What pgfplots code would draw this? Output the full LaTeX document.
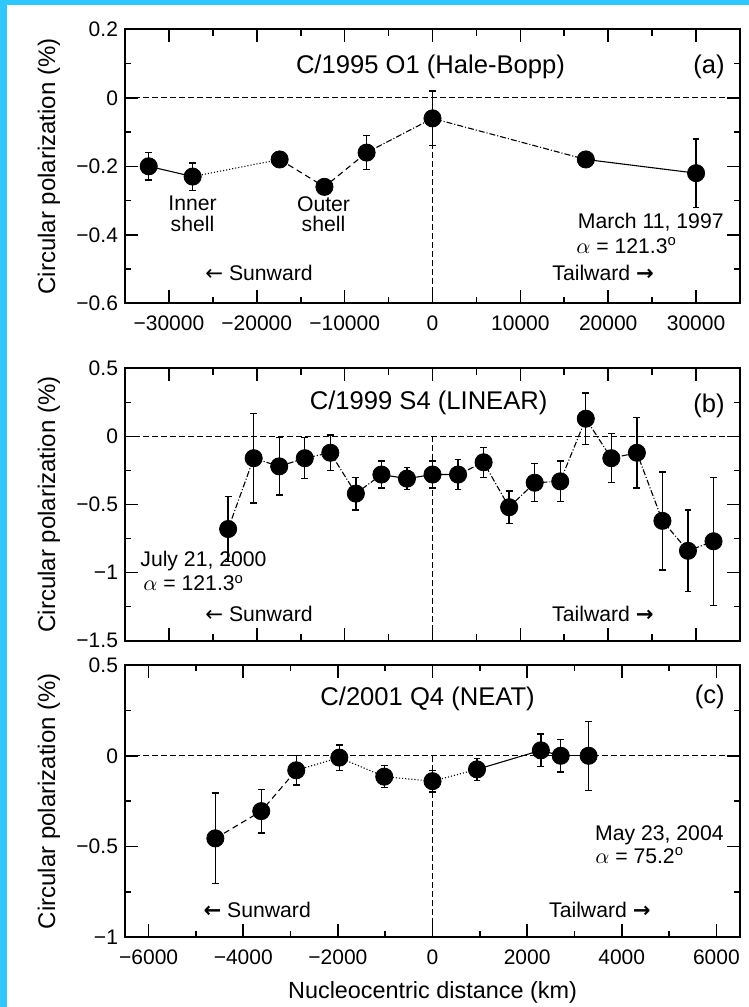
\documentclass[border=0pt]{standalone}
\usepackage{fontspec}
\setmainfont{Liberation Sans}
\newfontfamily\dejavu{DejaVu Sans}
\usepackage{pgfplots}
\pgfplotsset{compat=1.18}
\definecolor{bordercyan}{RGB}{46,200,255}
\newcommand{\fA}{\fontsize{10.6}{12.7}\selectfont}
\newcommand{\fS}{\fontsize{10.6}{10.2}\selectfont}
\newcommand{\fT}{\fontsize{12.8}{15}\selectfont}
\newcommand{\la}{{\dejavu ←}}
\newcommand{\ra}{{\dejavu\bfseries →}}
\newcommand{\lab}{{\dejavu\bfseries ←}}
\pgfplotsset{
  panel/.style={
    scale only axis, width=307.5pt,
    axis line style={line width=1pt},
    every tick/.style={line width=0.8pt, black},
    tick align=inside,
    major tick length=6.5pt, minor tick length=3.2pt,
    tick label style={font=\fontsize{10.5}{12}\selectfont},
    xticklabel style={yshift=-2.7pt},
    scaled x ticks=false, scaled y ticks=false,
    clip=false,
    ylabel={Circular polarization (\%)},
    every axis y label/.style={at={(axis description cs:-0.1236,0.5)}, rotate=90, anchor=center, font=\fontsize{12}{14}\selectfont},
  },
  seg/.style={black, line width=0.55pt, no marks},
  zline/.style={black, line width=0.6pt, dash pattern=on 3pt off 1.5pt, no marks},
  dat/.style={only marks, mark=*, mark size=4.3pt, black, mark options={solid, fill=black},
    error bars/.cd, y dir=both, y explicit,
    error bar style={line width=0.7pt, solid},
    error mark options={rotate=90, mark size=1.7pt, line width=0.7pt}},
}
\begin{document}
\begin{tikzpicture}
\useasboundingbox (0,0) rectangle (374.5pt,-503.5pt);
\fill[bordercyan] (0,0) rectangle (374.5pt,-503.5pt);
\fill[white] (3.5pt,-2.5pt) rectangle (374.5pt,-503.5pt);

% ---------------- panel (a)
\begin{axis}[panel, at={(62.5pt,-14.65pt)}, anchor=north west, height=137pt,
  xmin=-35000, xmax=35000, ymin=-0.6, ymax=0.2,
  xtick={-30000,-20000,-10000,0,10000,20000,30000},
  xticklabels={−30000,−20000,−10000,0,10000,20000,30000},
  minor xtick={-25000,-15000,-5000,5000,15000,25000},
  ytick={-0.6,-0.4,-0.2,0,0.2},
  yticklabels={−0.6,−0.4,−0.2,0,0.2},
  minor ytick={-0.5,-0.3,-0.1,0.1}]
\addplot[zline] coordinates {(-35000,0) (35000,0)};
\addplot[zline] coordinates {(0,0) (0,-0.6)};
\addplot[seg] coordinates {(-32300,-0.20) (-27300,-0.23)};
\addplot[seg, densely dotted] coordinates {(-27300,-0.23) (-17400,-0.18)};
\addplot[seg, densely dashed] coordinates {(-17400,-0.18) (-12300,-0.26) (-7500,-0.16)};
\addplot[seg, densely dashdotted] coordinates {(-7500,-0.16) (0,-0.06) (17450,-0.18)};
\addplot[seg] coordinates {(17450,-0.18) (30000,-0.22)};
\addplot[dat] coordinates {
 (-32300,-0.20) +- (0,0.04)
 (-27300,-0.23) +- (0,0.04)
 (-17400,-0.18) +- (0,0.02)
 (-12300,-0.26) +- (0,0.02)
 (-7500,-0.16) +- (0,0.05)
 (0,-0.06) +- (0,0.08)
 (17450,-0.18) +- (0,0.02)
 (30000,-0.22) +- (0,0.10)
};
\node[anchor=base, font=\fT] at (axis description cs:0.4967,0.8405) {C/1995 O1 (Hale-Bopp)};
\node[anchor=base east, font=\fT, inner sep=0] at (axis description cs:0.9756,0.8405) {(a)};
\node[anchor=north, font=\fS, inner sep=0, align=center] at (axis description cs:0.1098,0.392) {Inner\\shell};
\node[anchor=north, font=\fS, inner sep=0, align=center] at (axis description cs:0.3228,0.392) {Outer\\shell};
\node[anchor=base east, font=\fA, inner sep=0] at (axis description cs:0.974,0.2748) {March 11, 1997};
\node[anchor=base west, font=\fA, inner sep=0] at (axis description cs:0.7333,0.1836) {$\alpha$ = 121.3\textsuperscript{o}};
\node[anchor=base west, font=\fA, inner sep=0] at (axis description cs:0.130,0.085) {\la\ Sunward};
\node[anchor=base west, font=\fA, inner sep=0] at (axis description cs:0.6943,0.085) {Tailward \ra};
\end{axis}

% ---------------- panel (b)
\begin{axis}[panel, at={(62.5pt,-184.15pt)}, anchor=north west, height=136.2pt,
  xmin=-6500, xmax=6500, ymin=-1.5, ymax=0.5,
  xtick={-5571.43,-3714.29,-1857.14,0,1857.14,3714.29,5571.43},
  xticklabels={},
  minor xtick={-4642.86,-2785.71,-928.57,928.57,2785.71,4642.86},
  ytick={-1.5,-1,-0.5,0,0.5},
  yticklabels={−1.5,−1,−0.5,0,0.5},
  minor ytick={-1.25,-0.75,-0.25,0.25}]
\addplot[zline] coordinates {(-6500,0) (6500,0)};
\addplot[zline] coordinates {(0,0) (0,-1.5)};
\addplot[seg, densely dashdotted] coordinates {
 (-4320,-0.68) (-3780,-0.16) (-3240,-0.22) (-2700,-0.16) (-2160,-0.12)
 (-1620,-0.42) (-1080,-0.28)};
\addplot[seg] coordinates {(-1080,-0.28) (-540,-0.31) (0,-0.28) (540,-0.28)};
\addplot[seg, densely dashdotted] coordinates {
 (540,-0.28) (1080,-0.19) (1620,-0.52) (2160,-0.34) (2700,-0.33) (3240,0.13)
 (3780,-0.16) (4320,-0.12) (4860,-0.62) (5400,-0.84) (5940,-0.77)};
\addplot[dat] coordinates {
 (-4320,-0.68) +- (0,0.24)
 (-3780,-0.16) +- (0,0.33)
 (-3240,-0.22) +- (0,0.21)
 (-2700,-0.16) +- (0,0.15)
 (-2160,-0.12) +- (0,0.13)
 (-1620,-0.42) +- (0,0.12)
 (-1080,-0.28) +- (0,0.10)
 (-540,-0.31) +- (0,0.08)
 (0,-0.28) +- (0,0.10)
 (540,-0.28) +- (0,0.11)
 (1080,-0.19) +- (0,0.11)
 (1620,-0.52) +- (0,0.12)
 (2160,-0.34) +- (0,0.14)
 (2700,-0.33) +- (0,0.15)
 (3240,0.13) +- (0,0.19)
 (3780,-0.16) +- (0,0.18)
 (4320,-0.12) +- (0,0.26)
 (4860,-0.62) +- (0,0.36)
 (5400,-0.84) +- (0,0.30)
 (5940,-0.77) +- (0,0.47)
};
\node[anchor=base, font=\fT] at (axis description cs:0.4937,0.847) {C/1999 S4 (LINEAR)};
\node[anchor=base east, font=\fT, inner sep=0] at (axis description cs:0.9756,0.836) {(b)};
\node[anchor=base west, font=\fA, inner sep=0] at (axis description cs:0.0244,0.2706) {July 21, 2000};
\node[anchor=base west, font=\fA, inner sep=0] at (axis description cs:0.0293,0.1825) {$\alpha$ = 121.3\textsuperscript{o}};
\node[anchor=base west, font=\fA, inner sep=0] at (axis description cs:0.130,0.071) {\la\ Sunward};
\node[anchor=base west, font=\fA, inner sep=0] at (axis description cs:0.694,0.071) {Tailward \ra};
\end{axis}

% ---------------- panel (c)
\begin{axis}[panel, at={(62.5pt,-332.5pt)}, anchor=north west, height=136.15pt,
  xmin=-6500, xmax=6500, ymin=-1, ymax=0.5,
  xtick={-6000,-4000,-2000,0,2000,4000,6000},
  xticklabels={−6000,−4000,−2000,0,2000,4000,6000},
  minor xtick={-5000,-3000,-1000,1000,3000,5000},
  ytick={-1,-0.5,0,0.5},
  yticklabels={−1,−0.5,0,0.5},
  minor ytick={-0.75,-0.25,0.25},
  xlabel={Nucleocentric distance (km)},
  every axis x label/.style={at={(axis description cs:0.5,-0.2009)}, anchor=center, font=\fontsize{11.7}{14}\selectfont}]
\addplot[zline] coordinates {(-6500,0) (6500,0)};
\addplot[zline] coordinates {(0,0) (0,-1)};
\addplot[seg, densely dashed] coordinates {(-4590,-0.455) (-3620,-0.305) (-2880,-0.08)};
\addplot[seg, densely dotted] coordinates {(-2880,-0.08) (-1970,-0.01) (-1020,-0.115) (0,-0.14) (940,-0.075)};
\addplot[seg] coordinates {(940,-0.075) (2290,0.03) (2710,0.0)};
\addplot[seg, densely dashed] coordinates {(2710,0.0) (3300,0.0)};
\addplot[dat] coordinates {
 (-4590,-0.455) +- (0,0.25)
 (-3620,-0.305) +- (0,0.12)
 (-2880,-0.08) +- (0,0.08)
 (-1970,-0.01) +- (0,0.07)
 (-1020,-0.115) +- (0,0.06)
 (0,-0.14) +- (0,0.06)
 (940,-0.075) +- (0,0.06)
 (2290,0.03) +- (0,0.09)
 (2710,0.0) +- (0,0.09)
 (3300,0.0) +- (0,0.19)
};
\node[anchor=base, font=\fT] at (axis description cs:0.492,0.853) {C/2001 Q4 (NEAT)};
\node[anchor=base east, font=\fT, inner sep=0] at (axis description cs:0.9756,0.860) {(c)};
\node[anchor=base east, font=\fA, inner sep=0] at (axis description cs:0.974,0.357) {May 23, 2004};
\node[anchor=base west, font=\fA, inner sep=0] at (axis description cs:0.764,0.272) {$\alpha$ = 75.2\textsuperscript{o}};
\node[anchor=base west, font=\fA, inner sep=0] at (axis description cs:0.127,0.071) {\lab\ Sunward};
\node[anchor=base west, font=\fA, inner sep=0] at (axis description cs:0.689,0.071) {Tailward \ra};
\end{axis}
\end{tikzpicture}
\end{document}
